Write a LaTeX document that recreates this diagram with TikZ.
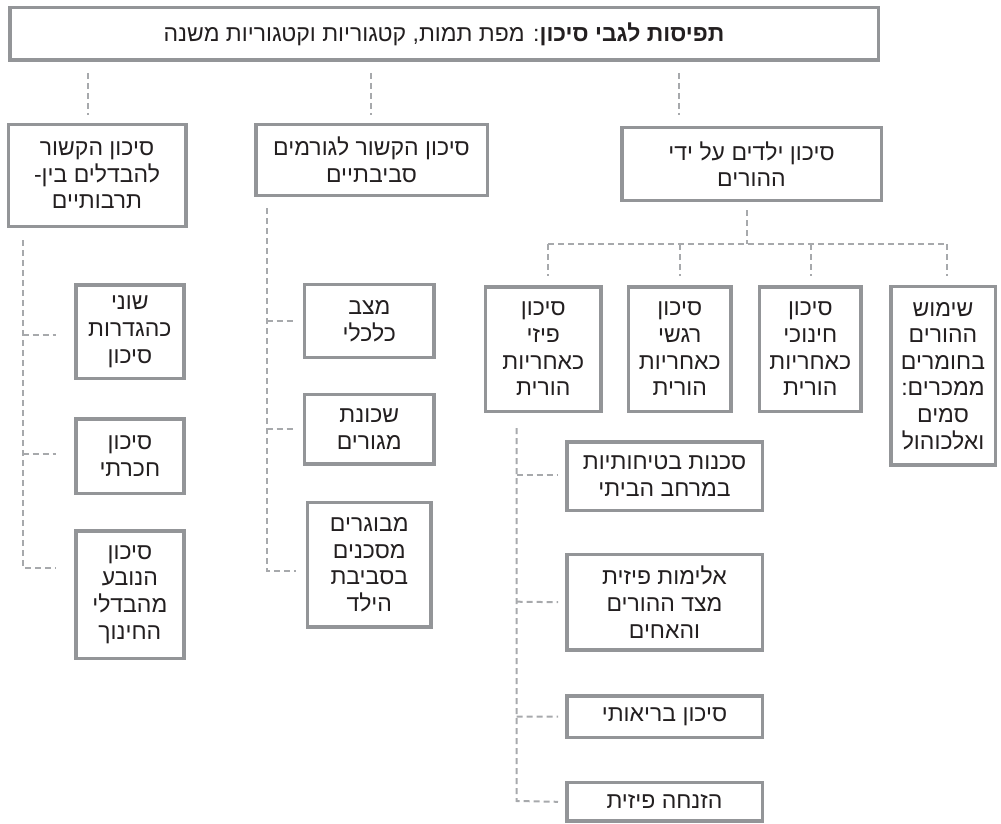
\documentclass[tikz,border=0pt]{standalone}
\usepackage{fontspec}
\setmainfont{Liberation Sans}
\newfontfamily\hebfont[Script=Hebrew]{Liberation Sans}
\TeXXeTstate=1
\definecolor{boxgray}{HTML}{939598}
\definecolor{dashgray}{HTML}{A7A9AC}
\definecolor{txtcol}{HTML}{231F20}
\newcommand\RL[1]{\beginR #1\endR}
\tikzset{
  box/.style={draw=boxgray, line width=3.5pt, fill=white, text=txtcol, align=center, inner sep=0pt,
    font=\hebfont\fontsize{23}{26.6}\selectfont},
  conn/.style={draw=dashgray, line width=2pt, dash pattern=on 6pt off 4pt}
}
\begin{document}
\begin{tikzpicture}[x=1pt,y=-1pt]
\useasboundingbox (0,0) rectangle (1001,824);
% top
\node[box, minimum width=868.5pt, minimum height=52.5pt] (top) at (444,34)
  {\RL{\textbf{תפיסות לגבי סיכון}: מפת תמות, קטגוריות וקטגוריות משנה}};
% level 1
\node[box, minimum width=177.5pt, minimum height=101.5pt] (L0) at (97,175.5)
  {\RL{סיכון הקשור}\\\RL{להבדלים בין-}\\\RL{תרבותיים}};
\node[box, minimum width=231.5pt, minimum height=70.5pt] (M0) at (371.5,160)
  {\RL{סיכון הקשור לגורמים}\\\RL{סביבתיים}};
\node[box, minimum width=259.5pt, minimum height=72.5pt] (R0) at (751.5,164)
  {\RL{סיכון ילדים על ידי}\\\RL{ההורים}};
% level 2 right
\node[box, minimum width=115.2pt, minimum height=124.5pt] (A) at (543.3,349)
  {\RL{סיכון}\\\RL{פיזי}\\\RL{כאחריות}\\\RL{הורית}};
\node[box, minimum width=102.8pt, minimum height=124.5pt] (B) at (679.8,349)
  {\RL{סיכון}\\\RL{רגשי}\\\RL{כאחריות}\\\RL{הורית}};
\node[box, minimum width=101.8pt, minimum height=124.5pt] (C) at (810.3,349)
  {\RL{סיכון}\\\RL{חינוכי}\\\RL{כאחריות}\\\RL{הורית}};
\node[box, minimum width=104.5pt, minimum height=178.2pt] (D) at (943,375.8)
  {\RL{שימוש}\\\RL{ההורים}\\\RL{בחומרים}\\\RL{ממכרים:}\\\RL{סמים}\\\RL{ואלכוהול}};
% sub A
\node[box, minimum width=195.5pt, minimum height=68.5pt] (S1) at (664.5,476)
  {\RL{סכנות בטיחותיות}\\\RL{במרחב הביתי}};
\node[box, minimum width=195.5pt, minimum height=95.5pt] (S2) at (664.5,602.2)
  {\RL{אלימות פיזית}\\\RL{מצד ההורים}\\\RL{והאחים}};
\node[box, minimum width=195.5pt, minimum height=41.5pt] (S3) at (664.5,716.5)
  {\RL{סיכון בריאותי}};
\node[box, minimum width=195.5pt, minimum height=38.2pt] (S4) at (664.5,801.8)
  {\RL{הזנחה פיזית}};
% left subs
\node[box, minimum width=108.2pt, minimum height=93.2pt] (L1) at (129.85,331.7)
  {\RL{שוני}\\\RL{כהגדרות}\\\RL{סיכון}};
\node[box, minimum width=108.2pt, minimum height=74.5pt] (L2) at (129.85,456)
  {\RL{סיכון}\\\RL{חכרתי}};
\node[box, minimum width=108.2pt, minimum height=127.5pt] (L3) at (129.85,594.5)
  {\RL{סיכון}\\\RL{הנובע}\\\RL{מהבדלי}\\\RL{החינוך}};
% middle subs
\node[box, minimum width=129.8pt, minimum height=73.2pt] (M1) at (369.3,321)
  {\RL{מצב}\\\RL{כלכלי}};
\node[box, minimum width=129.8pt, minimum height=69.5pt] (M2) at (369.3,429.2)
  {\RL{שכונת}\\\RL{מגורים}};
\node[box, minimum width=123.2pt, minimum height=124.8pt] (M3) at (369.3,564.8)
  {\RL{מבוגרים}\\\RL{מסכנים}\\\RL{בסביבת}\\\RL{הילד}};
% connectors: top to level 1
\coordinate (t1a) at (88,73);   \coordinate (t1b) at (88,115);
\coordinate (t2a) at (371,73);  \coordinate (t2b) at (371,115);
\coordinate (t3a) at (679,73);  \coordinate (t3b) at (679,115);
\draw[conn] (t1a) -- (t1b);
\draw[conn] (t2a) -- (t2b);
\draw[conn] (t3a) -- (t3b);
% R0 to level 2
\coordinate (rv) at (747,210);
\coordinate (rh) at (747,244);
\coordinate (hA) at (548,244); \coordinate (hD) at (947,244);
\draw[conn] (rv) -- (rh);
\draw[conn] (hA) -- (hD);
\draw[conn] (hA) -- (548,276);
\draw[conn] (680,244) -- (680,276);
\draw[conn] (811,244) -- (811,276);
\draw[conn] (hD) -- (947,276);
% A to subs
\coordinate (av) at (516.7,428);
\draw[conn] (av) -- (516.7,801) -- ([xshift=-7pt]S4.west);
\draw[conn] (516.7,475) -- ([xshift=-7pt,yshift=1pt]S1.west);
\draw[conn] (516.7,601.7) -- ([xshift=-7pt]S2.west);
\draw[conn] (516.7,716.7) -- ([xshift=-7pt]S3.west);
% L0 to subs
\coordinate (lv) at (22.7,240);
\draw[conn] (lv) -- (22.7,567.7) -- (56,567.7);
\draw[conn] (22.7,335.3) -- (56,335.3);
\draw[conn] (22.7,454.3) -- (56,454.3);
% M0 to subs
\coordinate (mv) at (266.7,208);
\draw[conn] (mv) -- (266.7,570.7) -- (296,570.7);
\draw[conn] (266.7,321) -- (296,321);
\draw[conn] (266.7,429) -- (296,429);
\end{tikzpicture}
\end{document}
